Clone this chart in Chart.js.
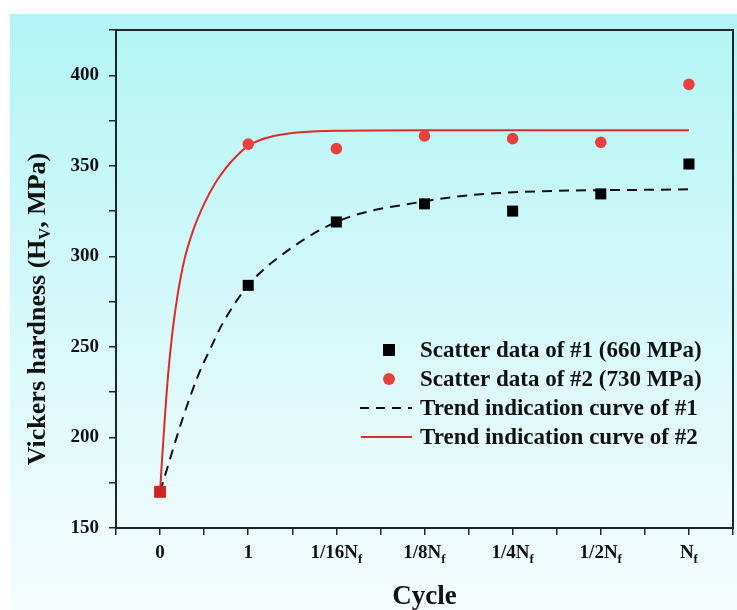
<!DOCTYPE html>
<html lang="en">
<head>
    <meta charset="UTF-8">
    <title>Vickers hardness vs cycle</title>
    <script src="https://cdn.jsdelivr.net/npm/chart.js"></script>
    <style>
        html, body { margin: 0; padding: 0; background: #fff; }
        #wrap { width: 737px; height: 610px; }
    </style>
</head>
<body>
    <div id="wrap"><canvas id="hvChart" width="737" height="610"></canvas></div>

    <script>
        // x tick labels (main part + subscript)
        const tickMain = ['0', '1', '1/16N', '1/8N', '1/4N', '1/2N', 'N'];
        const tickSub = ['', '', 'f', 'f', 'f', 'f', 'f'];

        // measured hardness, one value per cycle stage
        const hardness1 = [170, 284, 319, 329, 325, 334.5, 351];
        const hardness2 = [170, 362, 359.5, 366.5, 365, 363, 395];

        // trend curves (x in stage units)
        const trend1X = [0, 0.26, 0.43, 0.58, 0.71, 1.0, 1.28, 2.0, 2.95, 3.85, 6.0];
        const trend1Y = [170, 211, 234, 250, 263, 284, 297, 319, 330, 335, 337];
        const trend2X = [0, 0.02, 0.05, 0.09, 0.14, 0.2, 0.28, 0.38, 0.5, 0.62, 0.75, 0.88, 1.0, 1.15, 1.35, 1.6, 2.0, 3.0, 6.0];
        const trend2Y = [170, 186, 208, 234, 258, 279, 299, 315, 329, 340, 349, 356, 361, 364.5, 367, 368.5, 369.4, 369.7, 369.7];

        const legendLabels = [
            'Scatter data of #1 (660 MPa)',
            'Scatter data of #2 (730 MPa)',
            'Trend indication curve of #1',
            'Trend indication curve of #2'
        ];

        const FONT = '"Liberation Serif", "Times New Roman", serif';
        const RED = '#e8403f';
        const AXIS = '#1c2828';

        const toPts = (xs, ys) => xs.map((x, i) => ({ x: x, y: ys[i] }));

        // background panel + frame + text
        const decor = {
            id: 'decor',
            beforeDraw(chart) {
                const ctx = chart.ctx;
                ctx.save();
                ctx.fillStyle = '#ffffff';
                ctx.fillRect(0, 0, chart.width, chart.height);
                const g = ctx.createLinearGradient(0, 14, 0, chart.height);
                g.addColorStop(0, '#b2f5f6');
                g.addColorStop(0.5, '#d6f8f9');
                g.addColorStop(1, '#f6fdfd');
                ctx.fillStyle = g;
                ctx.fillRect(10, 14, chart.width - 10, chart.height - 14);
                ctx.restore();
            },
            afterDraw(chart) {
                const ctx = chart.ctx;
                const a = chart.chartArea;
                const xs = chart.scales.x;
                ctx.save();
                // frame
                ctx.strokeStyle = AXIS;
                ctx.lineWidth = 2;
                ctx.strokeRect(a.left, a.top, a.right - a.left, a.bottom - a.top);

                // x tick labels with subscript f
                ctx.fillStyle = '#111';
                ctx.textBaseline = 'alphabetic';
                ctx.textAlign = 'left';
                tickMain.forEach((t, i) => {
                    ctx.font = 'bold 19px ' + FONT;
                    const w1 = ctx.measureText(t).width;
                    ctx.font = 'bold 13px ' + FONT;
                    const w2 = tickSub[i] ? ctx.measureText(tickSub[i]).width : 0;
                    const cx = xs.getPixelForValue(i);
                    const x0 = cx - (w1 + w2) / 2;
                    ctx.font = 'bold 19px ' + FONT;
                    ctx.fillText(t, x0, 558);
                    if (tickSub[i]) {
                        ctx.font = 'bold 13px ' + FONT;
                        ctx.fillText(tickSub[i], x0 + w1, 563);
                    }
                });

                // x title
                ctx.font = 'bold 27px ' + FONT;
                ctx.textAlign = 'center';
                ctx.fillText('Cycle', (a.left + a.right) / 2, 604);

                // y title with subscript V
                ctx.translate(45, 309);
                ctx.rotate(-Math.PI / 2);
                const p1 = 'Vickers hardness (H', p2 = 'V', p3 = ', MPa)';
                ctx.font = 'bold 26px ' + FONT;
                const w1 = ctx.measureText(p1).width, w3 = ctx.measureText(p3).width;
                ctx.font = 'bold 16px ' + FONT;
                const w2 = ctx.measureText(p2).width;
                let x = -(w1 + w2 + w3) / 2;
                ctx.textAlign = 'left';
                ctx.font = 'bold 26px ' + FONT;
                ctx.fillText(p1, x, 0);
                ctx.font = 'bold 16px ' + FONT;
                ctx.fillText(p2, x + w1, 5);
                ctx.font = 'bold 26px ' + FONT;
                ctx.fillText(p3, x + w1 + w2, 0);
                ctx.restore();

                // legend
                ctx.save();
                const rows = [350, 379, 408, 437];
                ctx.fillStyle = '#000';
                ctx.fillRect(389 - 6, rows[0] - 6, 12, 12);
                ctx.fillStyle = RED;
                ctx.beginPath();
                ctx.arc(389, rows[1], 6, 0, Math.PI * 2);
                ctx.fill();
                ctx.strokeStyle = '#111';
                ctx.lineWidth = 2;
                ctx.setLineDash([9, 7]);
                ctx.beginPath();
                ctx.moveTo(360, rows[2]);
                ctx.lineTo(412, rows[2]);
                ctx.stroke();
                ctx.setLineDash([]);
                ctx.strokeStyle = '#e02a2a';
                ctx.beginPath();
                ctx.moveTo(361, rows[3]);
                ctx.lineTo(412, rows[3]);
                ctx.stroke();
                ctx.fillStyle = '#111';
                ctx.font = 'bold 23px ' + FONT;
                ctx.textBaseline = 'middle';
                legendLabels.forEach((t, i) => ctx.fillText(t, 420, rows[i] + 1));
                ctx.restore();
            }
        };

        const ctx = document.getElementById('hvChart');
        new Chart(ctx, {
            type: 'line',
            data: {
                datasets: [
                    {
                        label: legendLabels[0],
                        data: toPts(hardness1.map((_, i) => i), hardness1),
                        showLine: false,
                        pointStyle: 'rect',
                        pointRadius: 7.8,
                        backgroundColor: '#000',
                        borderColor: '#000',
                        borderWidth: 0,
                        order: 1
                    },
                    {
                        label: legendLabels[1],
                        data: toPts(hardness2.map((_, i) => i), hardness2),
                        showLine: false,
                        pointStyle: hardness2.map((_, i) => i === 0 ? 'rect' : 'circle'),
                        pointRadius: hardness2.map((_, i) => i === 0 ? 8.5 : 5.8),
                        backgroundColor: hardness2.map((_, i) => i === 0 ? 'rgba(232,40,40,0.9)' : RED),
                        borderColor: RED,
                        borderWidth: 0,
                        order: 0
                    },
                    {
                        label: legendLabels[2],
                        data: toPts(trend1X, trend1Y),
                        borderColor: '#111',
                        borderWidth: 2,
                        borderDash: [10, 7],
                        pointRadius: 0,
                        cubicInterpolationMode: 'monotone',
                        fill: false,
                        order: 3
                    },
                    {
                        label: legendLabels[3],
                        data: toPts(trend2X, trend2Y),
                        borderColor: '#e02a2a',
                        borderWidth: 2,
                        pointRadius: 0,
                        cubicInterpolationMode: 'monotone',
                        fill: false,
                        order: 2
                    }
                ]
            },
            options: {
                responsive: false,
                animation: false,
                events: [],
                layout: { autoPadding: false, padding: { left: 0, right: 4, top: 30, bottom: 0 } },
                plugins: {
                    legend: { display: false },
                    tooltip: { enabled: false }
                },
                scales: {
                    x: {
                        type: 'linear',
                        min: -0.5,
                        max: 6.5,
                        afterFit: s => { s.height = 82; s.paddingRight = 0; s.paddingLeft = 0; },
                        ticks: { stepSize: 0.5, display: false },
                        grid: {
                            drawOnChartArea: false,
                            drawTicks: true,
                            tickLength: 7,
                            color: AXIS,
                            lineWidth: 1.5
                        },
                        border: { display: true, color: AXIS, width: 2 }
                    },
                    y: {
                        min: 150,
                        max: 425,
                        afterFit: s => { s.width = 116; },
                        ticks: {
                            stepSize: 25,
                            padding: 10,
                            color: '#111',
                            font: { family: FONT, size: 19, weight: 'bold' },
                            callback: v => (v % 50 === 0 ? v : '')
                        },
                        grid: {
                            drawOnChartArea: false,
                            drawTicks: true,
                            tickLength: 7,
                            color: AXIS,
                            lineWidth: 1.5
                        },
                        border: { display: true, color: AXIS, width: 2 }
                    }
                }
            },
            plugins: [decor]
        });
    </script>
</body>
</html>
